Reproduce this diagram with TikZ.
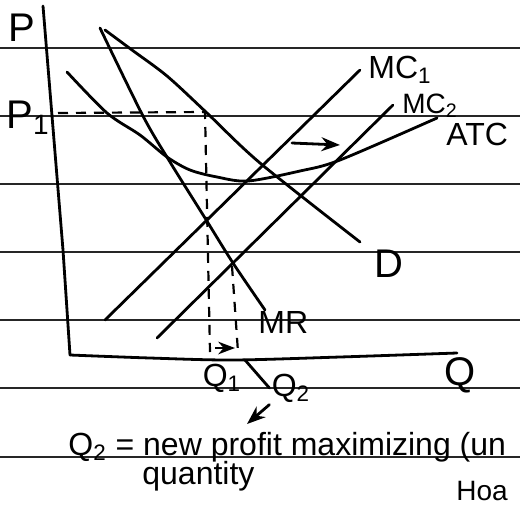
\documentclass[tikz,border=0pt]{standalone}
\usepackage{fontspec}
\setmainfont{Liberation Sans}
\usetikzlibrary{arrows.meta,positioning}

\begin{document}
\begin{tikzpicture}[
  x=0.5pt, y=-0.5pt,
  curve/.style={line width=1.4pt, line cap=round, line join=round},
  rule/.style={line width=1pt, black!85},
  guide/.style={line width=1.1pt, dash pattern=on 5pt off 4pt},
  lbl/.style={font=\fontsize{16}{18}\selectfont, inner sep=1pt},
  smalllbl/.style={font=\fontsize{14}{16}\selectfont, inner sep=1pt},
  biglbl/.style={font=\fontsize{20}{22}\selectfont, inner sep=1pt},
  >=Stealth
]
  \useasboundingbox (0,0) rectangle (520,505);
  \clip (0,0) rectangle (520,505);

  % ruled paper
  \foreach \y in {48,116,184,252,320,388,457}
    \draw[rule] (0,\y) -- (520,\y);

  % axes
  \draw[curve] (43,6) -- (63,250) -- (70,355);
  \draw[curve] plot[smooth] coordinates {(70,355) (150,358) (233,360) (340,357) (457,353)};

  % curves
  \draw[curve] plot[smooth] coordinates {(105,30) (132,50) (167,76) (207,113) (260,163) (360,242)};
  \draw[curve] plot[smooth] coordinates {(100,28) (143,116) (170,162) (205,218) (233,263) (265,310)};
  \draw[curve] (105,320) -- (360,70);
  \draw[curve] (157,338) -- (393,105);
  \draw[curve] plot[smooth] coordinates {(67,72) (107,113) (140,135) (167,157) (190,170)
    (217,177) (248,181) (300,171) (340,160) (437,118)};

  % P1 and the two quantities
  \draw[guide] (58,113) -- (205,112) -- (210,352);
  \draw[guide] (232,266) -- (238,352);

  % labels
  \node[biglbl] (p) at (22,28) {P};
  \node[biglbl] (p1) at (28,118) {P\textsubscript{1}};
  \node[lbl, anchor=west] (mc1) at (366,70) {MC\textsubscript{1}};
  \node[smalllbl, anchor=west] (mc2) at (400,106) {MC\textsubscript{2}};
  \node[lbl, anchor=west] (atc) at (444,134) {ATC};
  \node[biglbl] (d) at (389,264) {D};
  \node[lbl, anchor=west] (mr) at (256,322) {MR};
  \node[biglbl] (q) at (460,375) {Q};
  \node[lbl] (q1) at (222,378) {Q\textsubscript{1}};
  \node[lbl] (q2) at (291,388) {Q\textsubscript{2}};
  \coordinate (q2foot) at (245,360);

  % shifts
  \coordinate (shiftA) at (292,143);
  \coordinate (shiftB) at (340,145);
  \draw[curve, ->] (shiftA) -- (shiftB);
  \coordinate (stepA) at (215,348);
  \coordinate (stepB) at (235,348);
  \draw[line width=1.2pt, ->] (stepA) -- (stepB);

  % note
  \node[lbl, anchor=base west] (note) at (66,455) {Q\textsubscript{2} = new profit maximizing (un};
  \node[lbl, anchor=base west] (quant) at (140,484) {quantity};
  \node[smalllbl, anchor=base west] (hoa) at (454,500) {Hoa};
  \draw[curve] (q2foot) -- (q2.west);
  \draw[curve, ->] (q2.south west) -- (247,424);
\end{tikzpicture}
\end{document}
